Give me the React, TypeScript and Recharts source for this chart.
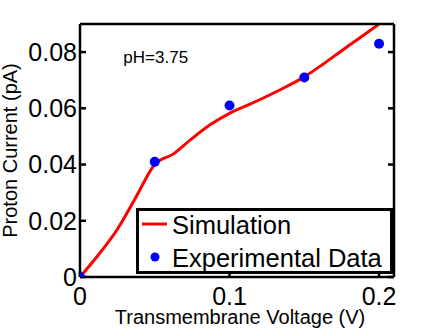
import { ComposedChart, Line, Scatter, XAxis, YAxis, Legend, ReferenceDot, Label } from "recharts";

const FONT = '"Liberation Sans", Arial, Helvetica, sans-serif';

// simulation curve (V, pA)
const simV = [0, 0.0125, 0.025, 0.0375, 0.05, 0.0625, 0.075, 0.0875, 0.1, 0.1125, 0.125, 0.1375, 0.15, 0.1625, 0.175, 0.1875, 0.2];
const simI = [0, 0.008, 0.017, 0.0285, 0.0400, 0.0438, 0.0493, 0.0543, 0.0582, 0.0612, 0.0643, 0.0676, 0.0712, 0.0757, 0.0805, 0.0852, 0.0900];

// measured points
const expV = [0, 0.05, 0.1, 0.15, 0.2];
const expI = [0, 0.041, 0.061, 0.071, 0.083];

const xTicks = [0, 0.1, 0.2];
const yTicks = [0, 0.02, 0.04, 0.06, 0.08];

const simData = simV.map((v, i) => ({ v, i: simI[i] }));
const expData = expV.map((v, i) => ({ v, i: expI[i] }));

const AXIS = { stroke: "#000", strokeWidth: 2.5 };
const TICK = { fill: "#000", fontSize: 25, fontFamily: FONT };

function LegendBox(props: any) {
  // line entry first, like the original legend
  const items = [...(props.payload || [])].sort((a: any, b: any) => (a.type === "line" ? -1 : 0) - (b.type === "line" ? -1 : 0));
  return (
    <div style={{ width: 257, height: 66, boxSizing: "border-box", border: "3px solid #000", background: "#fff" }}>
      <svg width={251} height={60} style={{ display: "block", overflow: "visible" }}>
        {items.map((it: any, k: number) => {
          const cy = 13 + k * 33;
          return (
            <g key={k}>
              {it.type === "circle" ? (
                <circle cx={16} cy={cy} r={4.5} fill={it.color} />
              ) : (
                <line x1={3} x2={28} y1={cy} y2={cy} stroke={it.color} strokeWidth={3} />
              )}
              <text x={33} y={cy + 10} fontSize={25.5} fontFamily={FONT} fill="#000">{it.value}</text>
            </g>
          );
        })}
      </svg>
    </div>
  );
}

export default function App() {
  return (
    <div style={{ position: "absolute", left: 0, top: 0, width: 436, height: 328, background: "#fff" }}>
      <ComposedChart width={436} height={328} margin={{ top: 23, right: 41, bottom: 0, left: 0 }}>
        <XAxis xAxisId="b" dataKey="v" type="number" domain={[0, 0.21]} ticks={xTicks} allowDataOverflow
          axisLine={AXIS} tickLine={AXIS} tickSize={-6} tickMargin={16} tick={TICK} height={51}
          tickFormatter={(t: number) => String(t)}>
          <Label content={(p: any) => (
            <text x={p.viewBox.x + p.viewBox.width / 2 + 3} y={p.viewBox.y + 47} textAnchor="middle"
              fontSize={20} fontFamily={FONT} fill="#000">Transmembrane Voltage (V)</text>
          )} />
        </XAxis>
        <XAxis xAxisId="t" orientation="top" type="number" domain={[0, 0.21]} ticks={xTicks} allowDataOverflow
          axisLine={AXIS} tickLine={AXIS} tickSize={-6} height={1} tickFormatter={() => ""} />
        <YAxis yAxisId="l" dataKey="i" type="number" domain={[0, 0.09]} ticks={yTicks} allowDataOverflow
          axisLine={AXIS} tickLine={AXIS} tickSize={-6} tickMargin={9} tick={TICK} width={80}
          tickFormatter={(t: number) => String(t)}>
          <Label content={(p: any) => {
            const x = p.viewBox.x + 17;
            const y = p.viewBox.y + p.viewBox.height / 2;
            return (
              <text x={x} y={y} transform={`rotate(-90 ${x} ${y})`} textAnchor="middle"
                fontSize={20} fontFamily={FONT} fill="#000">Proton Current (pA)</text>
            );
          }} />
        </YAxis>
        <YAxis yAxisId="r" orientation="right" type="number" domain={[0, 0.09]} ticks={yTicks} allowDataOverflow
          axisLine={AXIS} tickLine={AXIS} tickSize={-6} width={1} tickFormatter={() => ""} />
        <Line xAxisId="b" yAxisId="l" data={simData} dataKey="i" name="Simulation" type="monotone"
          stroke="#FF0000" strokeWidth={3} dot={false} legendType="line" isAnimationActive={false} />
        <Scatter xAxisId="b" yAxisId="l" data={expData} dataKey="i" name="Experimental Data" fill="#0000FF"
          legendType="circle" isAnimationActive={false}
          shape={(p: any) => <circle cx={p.cx} cy={p.cy} r={5} fill="#0000FF" />} />
        <ReferenceDot xAxisId="b" yAxisId="l" x={0.029} y={0.078} r={0} stroke="none" fill="none"
          label={{
            content: (p: any) => (
              <text x={p.viewBox.x} y={p.viewBox.y} dominantBaseline="central" textAnchor="start"
                fontSize={17} fontFamily={FONT} fill="#000">pH=3.75</text>
            ),
          }} />
        <Legend content={<LegendBox />} layout="horizontal" verticalAlign="middle" align="center"
          wrapperStyle={{ position: "absolute", left: 136, top: 208, width: 257, height: 66, bottom: "auto" }} />
      </ComposedChart>
    </div>
  );
}
